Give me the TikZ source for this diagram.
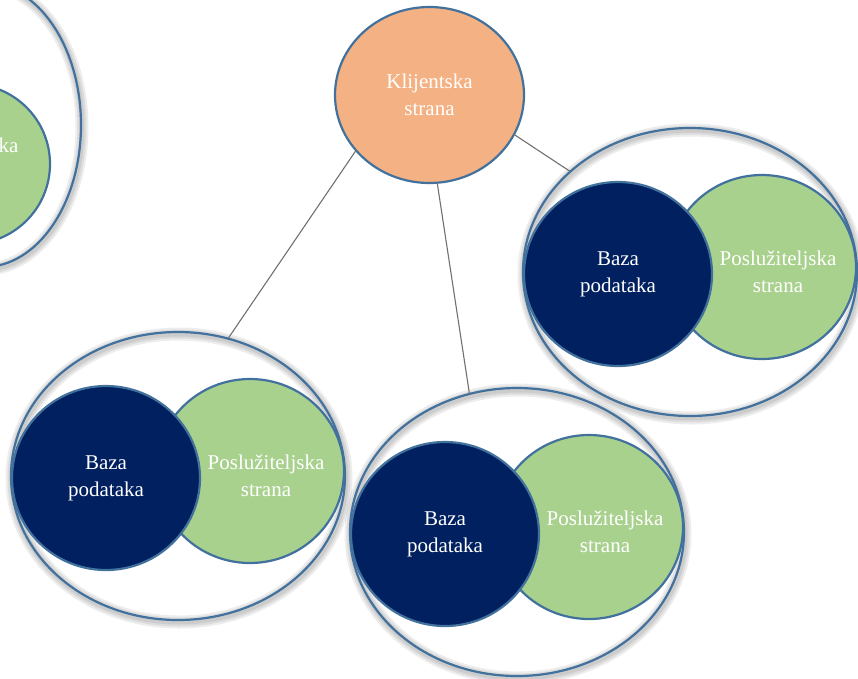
\documentclass[tikz,border=0pt]{standalone}
\usepackage{fontspec}
\setmainfont{Liberation Serif}
\usetikzlibrary{shapes.geometric}
\definecolor{bordblue}{RGB}{65,113,156}
\definecolor{navyfill}{RGB}{0,32,96}
\definecolor{greenfill}{RGB}{169,209,142}
\definecolor{peachfill}{RGB}{244,177,131}
\definecolor{conngray}{RGB}{112,112,112}
\tikzset{
  outerell/.style={ellipse, draw=bordblue, line width=2.2pt, inner sep=0pt, outer sep=0pt,
    minimum width=334pt, minimum height=288pt},
  navycirc/.style={ellipse, draw=bordblue, line width=2.2pt, fill=navyfill, inner sep=0pt, outer sep=0pt,
    minimum width=188pt, minimum height=184pt, text=white, align=center, font=\fontsize{21}{27}\selectfont},
  greencirc/.style={ellipse, draw=bordblue, line width=2.2pt, fill=greenfill, inner sep=0pt, outer sep=0pt,
    minimum width=188pt, minimum height=184pt},
  clientcirc/.style={ellipse, draw=bordblue, line width=2.2pt, fill=peachfill, inner sep=0pt, outer sep=0pt,
    minimum width=189pt, minimum height=176pt, text=white, align=center, font=\fontsize{21}{27}\selectfont},
  lbl/.style={text=white, align=center, inner sep=0pt, font=\fontsize{21}{27}\selectfont},
  connector/.style={draw=conngray, line width=1.1pt},
  glow/.style={draw=black, opacity=0.07},
}
\newcommand\servergroup[3]{%
  \fill[white] (#2,#3) ellipse [x radius=167, y radius=144];
  \foreach \w in {13,9,5}{\draw[glow, line width=\w pt] (#2+1,#3+2) ellipse [x radius=167, y radius=144];}
  \node[outerell] (#1) at (#2,#3) {};
  \node[greencirc] (#1-srv) at (#2+72,#3-5) {};
  \node[navycirc] (#1-db) at (#2-72,#3+2) {Baza\\podataka};
  \node[lbl] (#1-srvt) at (#2+88,#3) {Poslužiteljska\\strana};
}
\begin{document}
\begin{tikzpicture}[x=1pt,y=-1pt]
\useasboundingbox (0,0) rectangle (858,678);
\clip (0,0) rectangle (858,678);
% partial group, top left
\fill[white] (-16,125) ellipse [x radius=97, y radius=142];
\foreach \w in {13,9,5}{\draw[glow, line width=\w pt] (-15,127) ellipse [x radius=97, y radius=142];}
\node[outerell, minimum width=194pt, minimum height=284pt] (T) at (-16,125) {};
\node[greencirc, minimum width=160pt, minimum height=160pt] (T-srv) at (-30,164) {};
\node[lbl] (T-srvt) at (-40,159) {Poslužiteljska\\strana};
% groups
\servergroup{A}{178}{476}
\servergroup{B}{517}{532}
\servergroup{C}{690}{272}
% client
\node[clientcirc] (client) at (429.5,95) {Klijentska\\strana};
% connectors
\draw[connector] (client.217) -- (A.70);
\draw[connector] (client.275.5) -- (B.109.7);
\draw[connector] (client.335.4) -- (C.140.1);
\end{tikzpicture}
\end{document}
